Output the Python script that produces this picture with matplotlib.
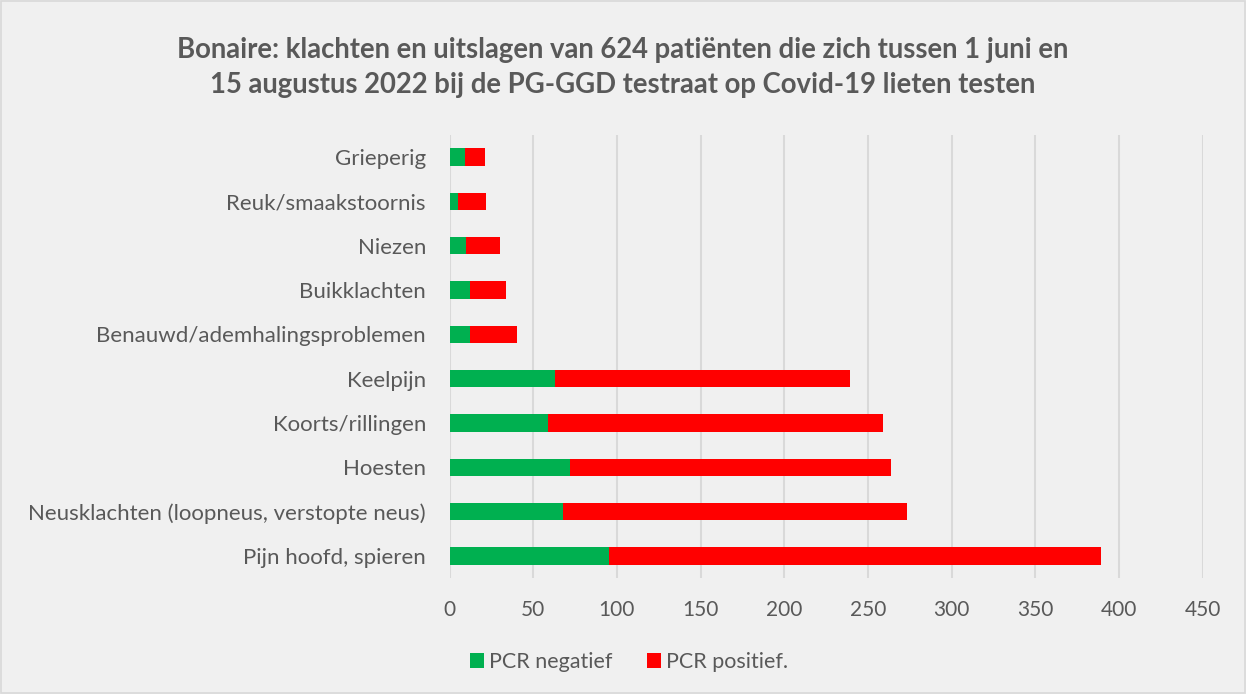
import numpy as np
import matplotlib.pyplot as plt
from matplotlib.patches import Rectangle

plt.rcParams['font.family'] = ['Lato', 'DejaVu Sans']

categories = ['Pijn hoofd, spieren', 'Neusklachten (loopneus, verstopte neus)', 'Hoesten',
              'Koorts/rillingen', 'Keelpijn', 'Benauwd/ademhalingsproblemen', 'Buikklachten',
              'Niezen', 'Reuk/smaakstoornis', 'Grieperig']
pcr_negatief = [95, 68, 72, 59, 63, 12, 12, 10, 5, 9]
pcr_positief = [294, 205, 192, 200, 176, 28, 22, 20, 17, 12]
xticks = [0, 50, 100, 150, 200, 250, 300, 350, 400, 450]

text_col = '#595959'
bg = '#F0F0F0'

fig = plt.figure(figsize=(12.46, 6.94), dpi=100, facecolor=bg)
fig.patches.append(Rectangle((0.001, 0.001), 0.998, 0.998, transform=fig.transFigure,
                             fill=False, edgecolor='#D9D9D9', linewidth=1.2))
ax = fig.add_axes([0.3608, 0.167, 0.6045, 0.6385])
ax.set_facecolor(bg)

y = np.arange(len(categories))
ax.barh(y, pcr_negatief, height=0.39, color='#00B050', label='PCR negatief', zorder=3)
ax.barh(y, pcr_positief, left=pcr_negatief, height=0.39, color='#FF0000',
        label='PCR positief.', zorder=3)

ax.set_xlim(0, 450)
ax.set_ylim(-0.5, len(categories) - 0.5)
ax.set_xticks(xticks)
ax.set_yticks(y)
ax.set_yticklabels(categories)
ax.grid(axis='x', color='#D9D9D9', linewidth=1.5, zorder=0)
for s in ax.spines.values():
    s.set_visible(False)
ax.tick_params(axis='x', length=0, labelsize=15, colors=text_col, pad=16)
ax.tick_params(axis='y', length=0, labelsize=16, colors=text_col, pad=17)

fig.text(0.5, 0.9027, 'Bonaire: klachten en uitslagen van 624 patiënten die zich tussen 1 juni en\n'
         '15 augustus 2022 bij de PG-GGD testraat op Covid-19 lieten testen',
         ha='center', va='center', fontsize=19.8, fontweight='bold', color=text_col,
         linespacing=1.4)

leg = fig.legend(loc='center', bbox_to_anchor=(0.505, 0.046), ncol=2, frameon=False,
                 fontsize=15.5, handlelength=0.65, handleheight=0.65, handletextpad=0.25,
                 columnspacing=1.6)
for t in leg.get_texts():
    t.set_color(text_col)

fig.savefig('out.png', dpi=100, facecolor=bg)
